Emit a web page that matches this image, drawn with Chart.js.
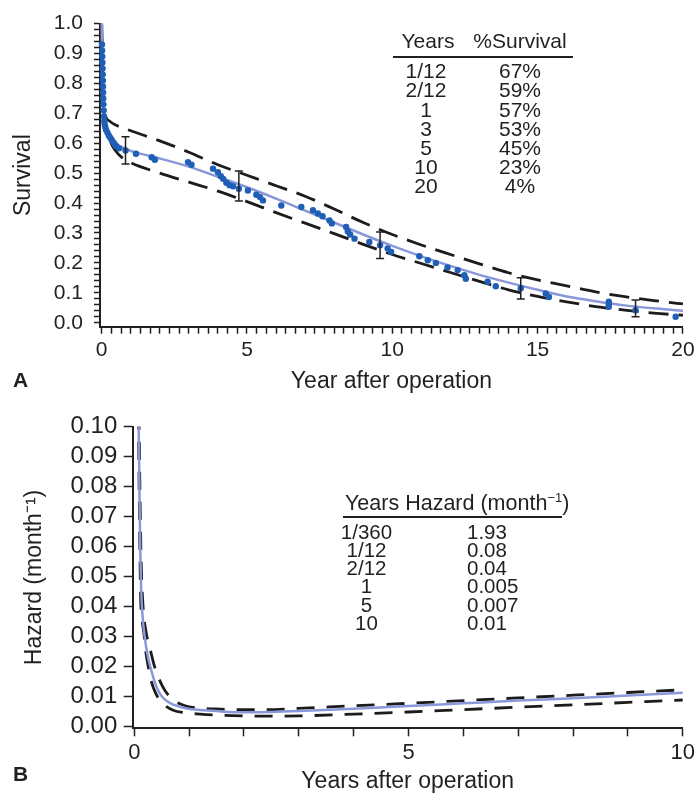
<!DOCTYPE html>
<html>
<head>
<meta charset="utf-8">
<script src="https://cdn.jsdelivr.net/npm/chart.js@4.4.1/dist/chart.umd.min.js"></script>
<style>
  html, body { margin: 0; padding: 0; background: #fff; }
  body { width: 699px; height: 795px; position: relative; overflow: hidden;
         font-family: 'Liberation Sans', Arial, Helvetica, sans-serif; color: #231f20; }
  .panel { position: absolute; left: 0; width: 699px; height: 395px; }
  .txt { position: absolute; white-space: nowrap; }
  .rule { position: absolute; height: 2px; background: #231f20; }
  .lbl { position: absolute; font-weight: bold; font-size: 21px; line-height: 21px; }
</style>
</head>
<body>
<div class="panel" style="top:0"><canvas id="survChart" width="699" height="395"></canvas></div>
<div class="panel" style="top:400px"><canvas id="hazChart" width="699" height="395"></canvas></div>
<div id="tables"></div>
<div class="lbl" style="left:13px;top:369px">A</div>
<div class="lbl" style="left:13px;top:763px">B</div>
<script>
// ---- Panel A : survival ----
// Kaplan-Meier dots
const kmYears = [0.01,0.015,0.02,0.025,0.03,0.035,0.04,0.045,0.05,0.055,0.06,0.07,0.08,0.09,0.1,
  0.12,0.15,0.2,0.25,0.3,0.35,0.4,0.45,0.5,0.6,0.82,1.18,1.72,1.83,2.97,3.09,3.83,4.0,4.1,4.18,
  4.29,4.4,4.52,4.72,5.03,5.32,5.45,5.55,6.18,6.87,7.27,7.44,7.6,7.84,7.92,8.41,8.47,8.55,8.7,9.21,
  9.58,9.84,9.96,10.93,11.22,11.5,11.9,12.25,12.48,12.53,13.28,13.56,14.42,15.28,15.39,17.45,17.45,17.45,18.37,19.75];
const kmSurvival = [0.93,0.91,0.89,0.87,0.85,0.83,0.81,0.79,0.77,0.75,0.73,0.71,0.69,0.675,0.665,
  0.655,0.645,0.635,0.625,0.618,0.61,0.603,0.597,0.59,0.583,0.576,0.565,0.553,0.545,0.537,0.528,0.515,0.503,0.49,0.481,
  0.468,0.46,0.456,0.448,0.442,0.428,0.42,0.409,0.392,0.387,0.376,0.365,0.356,0.342,0.332,0.32,0.305,0.295,0.281,0.27,
  0.259,0.248,0.237,0.222,0.209,0.2,0.185,0.176,0.159,0.147,0.137,0.122,0.115,0.098,0.086,0.07,0.06,0.053,0.042,0.02];

// parametric estimate
const fitYears = [0,0.01,0.02,0.035,0.05,0.083,0.12,0.17,0.25,0.35,0.5,0.75,1,1.5,2,3,4,5,6,7,8,9,10,11,12,13,14,15,16,17,18,19,20];
const fitSurvival = [1.0,0.92,0.84,0.77,0.72,0.675,0.652,0.636,0.622,0.61,0.598,0.585,0.574,0.561,0.549,0.522,0.488,0.453,
  0.415,0.375,0.335,0.295,0.257,0.222,0.19,0.16,0.134,0.11,0.088,0.072,0.058,0.048,0.04];

// confidence limits
const upperYears = [0,0.01,0.02,0.04,0.07,0.14,0.3,0.46,0.83,1.5,2,3,4,5,6,7,8,9,10,11,12,13,14,15,16,17,18,19,20,20.15];
const upperSurvival = [1.0,0.95,0.9,0.8,0.72,0.688,0.672,0.662,0.648,0.625,0.608,0.57,0.528,0.493,0.458,0.423,0.38,0.335,
  0.295,0.26,0.228,0.197,0.167,0.143,0.123,0.103,0.087,0.074,0.063,0.061];
const lowerYears = [0,0.01,0.02,0.04,0.07,0.12,0.2,0.3,0.45,0.7,1,2,3,4,5,6,7,8,9,10,11,12,13,14,15,16,17,18,19,20];
const lowerSurvival = [1.0,0.9,0.82,0.74,0.68,0.655,0.635,0.605,0.578,0.552,0.535,0.5,0.47,0.44,0.405,0.368,0.333,0.298,
  0.262,0.228,0.198,0.168,0.138,0.11,0.088,0.07,0.054,0.042,0.032,0.025];

// error bars on the KM estimate
const errYears = [0.82, 4.72, 9.58, 14.42, 18.37];
const errLow = [0.531, 0.407, 0.215, 0.079, 0.02];
const errHigh = [0.622, 0.507, 0.303, 0.15, 0.076];

const survTickValues = [0,0.1,0.2,0.3,0.4,0.5,0.6,0.7,0.8,0.9,1.0];
const survTickLabels = ['0.0','0.1','0.2','0.3','0.4','0.5','0.6','0.7','0.8','0.9','1.0'];
const yearTickValuesA = [0,5,10,15,20];
const yearTickLabelsA = ['0','5','10','15','20'];

const tableYearsA = ['1/12','2/12','1','3','5','10','20'];
const tableSurvivalA = ['67%','59%','57%','53%','45%','23%','4%'];

// ---- Panel B : hazard ----
const hazYears = [0.08,0.09,0.1,0.11,0.125,0.15,0.19,0.24,0.3,0.38,0.46,0.56,0.66,0.8,0.96,1.2,1.5,2,2.5,3,4,5,6,7,8,9,10];
const hazard = [0.1,0.085,0.07,0.058,0.046,0.037,0.03,0.024,0.0195,0.0145,0.0112,0.009,0.0078,0.0068,0.0061,0.0056,0.0052,
  0.0048,0.0049,0.0052,0.006,0.0069,0.0078,0.0087,0.0095,0.0104,0.0113];
const hazUpperYears = [0.085,0.095,0.11,0.13,0.16,0.22,0.3,0.37,0.45,0.52,0.6,0.71,0.82,0.96,1.2,1.5,2,2.41,3,4,5,6,7,8,9,10,10.2];
const hazUpper = [0.105,0.09,0.07,0.052,0.04,0.031,0.025,0.02,0.016,0.0133,0.011,0.0089,0.0077,0.0068,0.0062,0.0059,0.0057,
  0.0057,0.0061,0.007,0.0078,0.0087,0.0096,0.0105,0.0114,0.0123,0.0125];
const hazLowerYears = [0.075,0.085,0.095,0.105,0.117,0.14,0.176,0.21,0.255,0.32,0.39,0.46,0.55,0.71,0.9,1.2,1.6,2,2.41,3,4,5,6,7,8,9,10,10.2];
const hazLower = [0.105,0.085,0.07,0.055,0.042,0.036,0.031,0.025,0.02,0.0145,0.0112,0.0089,0.0072,0.0055,0.0047,0.0042,0.0038,
  0.0036,0.0035,0.0036,0.0042,0.0049,0.0057,0.0065,0.0073,0.0081,0.0089,0.009];

const hazTickValues = [0,0.01,0.02,0.03,0.04,0.05,0.06,0.07,0.08,0.09,0.1];
const hazTickLabels = ['0.00','0.01','0.02','0.03','0.04','0.05','0.06','0.07','0.08','0.09','0.10'];
const yearTickValuesB = [0,5,10];
const yearTickLabelsB = ['0','5','10'];

const tableYearsB = ['1/360','1/12','2/12','1','5','10'];
const tableHazardB = ['1.93','0.08','0.04','0.005','0.007','0.01'];

// ---- helpers ----
const ink = '#231f20';
const dotBlue = '#1f5fb6';
const lineBlue = '#8a97d8';
Chart.defaults.font.family = "'Liberation Sans', Arial, Helvetica, sans-serif";
Chart.defaults.color = ink;

function pts(xs, ys) { return xs.map((x, i) => ({ x: x, y: ys[i] })); }
function labelFor(v, values, labels) {
  for (let k = 0; k < values.length; k++) {
    if (Math.abs(v - values[k]) < 1e-9) return labels[k];
  }
  return '';
}
function steps(n, div) { const a = []; for (let i = 0; i <= n; i++) a.push(i / div); return a; }

const errorBarPlugin = {
  id: 'errorBars',
  afterDatasetsDraw(chart) {
    const { ctx, scales: { x, y } } = chart;
    ctx.save();
    ctx.strokeStyle = ink;
    ctx.lineWidth = 1.5;
    errYears.forEach((yr, i) => {
      const px = x.getPixelForValue(yr);
      const top = y.getPixelForValue(errHigh[i]);
      const bot = y.getPixelForValue(errLow[i]);
      ctx.beginPath();
      ctx.moveTo(px, top); ctx.lineTo(px, bot);
      ctx.moveTo(px - 4, top); ctx.lineTo(px + 4, top);
      ctx.moveTo(px - 4, bot); ctx.lineTo(px + 4, bot);
      ctx.stroke();
    });
    ctx.restore();
  }
};

function dashed(data, dash) {
  return { data: data, showLine: true, borderColor: '#1c1c1c', borderWidth: 2.8, borderDash: dash,
           pointRadius: 0, cubicInterpolationMode: 'monotone', clip: { left: 5, top: 0, right: false, bottom: 5 } };
}

// Chart A
new Chart(document.getElementById('survChart'), {
  type: 'scatter',
  data: {
    datasets: [
      { label: 'Kaplan-Meier', data: pts(kmYears, kmSurvival), pointRadius: 3.2, pointBackgroundColor: dotBlue,
        pointBorderWidth: 0, clip: false },
      { label: 'Parametric', data: pts(fitYears, fitSurvival), showLine: true, borderColor: lineBlue, borderWidth: 2.5,
        pointRadius: 0, cubicInterpolationMode: 'monotone', clip: false },
      Object.assign({ label: 'Upper CL' }, dashed(pts(upperYears, upperSurvival), [20, 10])),
      Object.assign({ label: 'Lower CL' }, dashed(pts(lowerYears, lowerSurvival), [20, 10]))
    ]
  },
  options: {
    responsive: false,
    animation: false,
    plugins: { legend: { display: false }, tooltip: { enabled: false } },
    layout: { padding: { top: 22.7, right: 15, bottom: 0, left: 0 } },
    scales: {
      x: {
        type: 'linear', min: -0.058, max: 20, bounds: 'data',
        afterFit: s => { s.height = 68.3; },
        afterBuildTicks: s => { s.ticks = steps(60, 3).map(v => ({ value: v })); },
        ticks: { autoSkip: false, maxRotation: 0, padding: 4.4, font: { size: 21 },
                 callback: v => labelFor(v, yearTickValuesA, yearTickLabelsA) },
        grid: { drawOnChartArea: false, tickLength: 7, tickColor: ink, tickWidth: 1.5 },
        border: { color: ink, width: 2 },
        title: { display: true, text: 'Year after operation', font: { size: 23 }, padding: { top: 0, bottom: 0 } }
      },
      y: {
        type: 'linear', min: -0.0133, max: 1.0, bounds: 'data',
        afterFit: s => { s.width = 100; },
        afterBuildTicks: s => { s.ticks = steps(50, 50).map(v => ({ value: v })); },
        ticks: { autoSkip: false, padding: 11, font: { size: 21 },
                 callback: v => labelFor(v, survTickValues, survTickLabels) },
        grid: { drawOnChartArea: false, tickLength: 6, tickColor: ink, tickWidth: 1.5 },
        border: { color: ink, width: 2 },
        title: { display: true, text: 'Survival', font: { size: 23 }, padding: { top: 10, bottom: 0 } }
      }
    }
  },
  plugins: [errorBarPlugin]
});

// Chart B
new Chart(document.getElementById('hazChart'), {
  type: 'scatter',
  data: {
    datasets: [
      { label: 'Hazard', data: pts(hazYears, hazard), showLine: true, borderColor: lineBlue, borderWidth: 2.5,
        pointRadius: 0, cubicInterpolationMode: 'monotone', clip: { left: 5, top: 0, right: false, bottom: 5 } },
      Object.assign({ label: 'Upper CL' }, dashed(pts(hazUpperYears, hazUpper), [18, 12])),
      Object.assign({ label: 'Lower CL' }, dashed(pts(hazLowerYears, hazLower), [18, 12]))
    ]
  },
  options: {
    responsive: false,
    animation: false,
    plugins: { legend: { display: false }, tooltip: { enabled: false } },
    layout: { padding: { top: 26.7, right: 16.3, bottom: 0, left: 0 } },
    scales: {
      x: {
        type: 'linear', min: -0.029, max: 10, bounds: 'data',
        afterFit: s => { s.height = 66.7; },
        afterBuildTicks: s => { s.ticks = steps(10, 1).map(v => ({ value: v })); },
        ticks: { autoSkip: false, maxRotation: 0, padding: 3.6, font: { size: 22 },
                 callback: v => labelFor(v, yearTickValuesB, yearTickLabelsB) },
        grid: { drawOnChartArea: false, tickLength: 8, tickColor: ink, tickWidth: 1.5 },
        border: { color: ink, width: 2 },
        title: { display: true, text: 'Years after operation', font: { size: 23 }, padding: { top: 0, bottom: 0 } }
      },
      y: {
        type: 'linear', min: -0.00053, max: 0.1, bounds: 'data',
        afterFit: s => { s.width = 132.7; },
        afterBuildTicks: s => { s.ticks = steps(10, 100).map(v => ({ value: v })); },
        ticks: { autoSkip: false, padding: 6.4, font: { size: 24 },
                 callback: v => labelFor(v, hazTickValues, hazTickLabels) },
        grid: { drawOnChartArea: false, tickLength: 9, tickColor: ink, tickWidth: 1.5 },
        border: { color: ink, width: 2 },
        title: { display: true, text: 'Hazard (month\u207B\u00B9)', font: { size: 23 }, padding: { top: 21, bottom: 0 } }
      }
    }
  }
});

// ---- inset tables ----
const tables = document.getElementById('tables');
function cell(html, left, cy, size, lh, width, align) {
  const d = document.createElement('div');
  d.className = 'txt';
  d.innerHTML = html;
  d.style.left = left + 'px';
  d.style.top = (cy - lh / 2) + 'px';
  d.style.fontSize = size + 'px';
  d.style.lineHeight = lh + 'px';
  if (width) { d.style.width = width + 'px'; d.style.textAlign = align; }
  tables.appendChild(d);
}
function rule(x1, x2, y) {
  const d = document.createElement('div');
  d.className = 'rule';
  d.style.left = x1 + 'px';
  d.style.width = (x2 - x1) + 'px';
  d.style.top = (y - 1) + 'px';
  tables.appendChild(d);
}

// table A
cell('Years', 428 - 50, 40.8, 21, 22, 100, 'center');
cell('%Survival', 520 - 70, 40.8, 21, 22, 140, 'center');
rule(393, 573, 56.7);
tableYearsA.forEach((t, i) => {
  cell(t, 426 - 50, 70.8 + 19.2 * i, 21, 19.2, 100, 'center');
  cell(tableSurvivalA[i], 520 - 50, 70.8 + 19.2 * i, 21, 19.2, 100, 'center');
});

// table B
cell('Years Hazard (month<span style="font-size:13px;position:relative;top:-8px">\u22121</span>)', 345, 503, 21.5, 22);
rule(343, 562, 516.7);
tableYearsB.forEach((t, i) => {
  cell(t, 366.5 - 50, 531.7 + 18.3 * i, 20.5, 18.3, 100, 'center');
  cell(tableHazardB[i], 467, 531.7 + 18.3 * i, 20.5, 18.3);
});
</script>
</body>
</html>
